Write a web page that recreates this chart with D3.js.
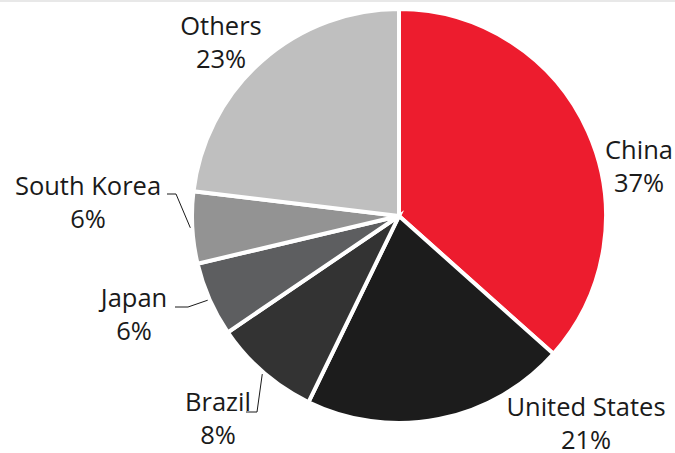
<!DOCTYPE html>
<html>
<head>
<meta charset="utf-8">
<script src="https://cdn.jsdelivr.net/npm/d3@7"></script>
<style>
  html, body { margin: 0; padding: 0; background: #fff; }
  svg { display: block; }
  text { font-family: "Open Sans", "Noto Sans", sans-serif; fill: #1a1a1a; }
</style>
</head>
<body>
<svg id="chart" width="675" height="453"></svg>
<script>
// Share of total, by country
const countries = ["China", "United States", "Brazil", "Japan", "South Korea", "Others"];
const shares = [36.6, 20.6, 8.3, 5.8, 5.6, 23.1];
const sliceColors = ["#ed1c2e", "#1c1c1c", "#333333", "#5d5e60", "#939393", "#bfbfbf"];

// Label placement: centre x / first baseline y; leader elbow where a connector is drawn
const labelLayout = {
  "China":         { x: 639, y: 159 },
  "United States": { x: 586, y: 416 },
  "Brazil":        { x: 218, y: 411, elbow: [257, 412], tail: [246, 412] },
  "Japan":         { x: 134, y: 307, elbow: [188, 307], tail: [175, 307] },
  "South Korea":   { x: 88,  y: 195, elbow: [176, 194], tail: [167, 194] },
  "Others":        { x: 221, y: 35 }
};

const width = 675, height = 453;
const cx = 399, cy = 216, radius = 207;
const lineGap = 33;

const svg = d3.select("#chart");

// thin rule along the top edge
svg.append("rect")
  .attr("x", 0).attr("y", 0)
  .attr("width", width).attr("height", 2)
  .attr("fill", "#e8e8e8");

const data = countries.map((name, i) => ({ name, value: shares[i], color: sliceColors[i] }));

const pie = d3.pie().sort(null).value(d => d.value);
const arcs = pie(data);

const arc = d3.arc().innerRadius(0).outerRadius(radius);

const g = svg.append("g").attr("transform", `translate(${cx},${cy})`);

g.selectAll("path.slice")
  .data(arcs)
  .join("path")
  .attr("class", "slice")
  .attr("d", arc)
  .attr("fill", d => d.data.color)
  .attr("stroke", "#fff")
  .attr("stroke-width", 4)
  .attr("stroke-linejoin", "miter");

// leader lines from the slice edge (mid-angle) to the label
const edgeR = radius + 2;
arcs.forEach(a => {
  const lay = labelLayout[a.data.name];
  if (!lay.elbow) return;
  const mid = (a.startAngle + a.endAngle) / 2;
  const ex = cx + edgeR * Math.sin(mid);
  const ey = cy - edgeR * Math.cos(mid);
  svg.append("polyline")
    .attr("points", [[ex, ey], lay.elbow, lay.tail].map(p => p.join(",")).join(" "))
    .attr("fill", "none")
    .attr("stroke", "#1a1a1a")
    .attr("stroke-width", 1);
});

// labels: name and rounded share
const labels = svg.selectAll("text.label")
  .data(arcs)
  .join("text")
  .attr("class", "label")
  .attr("text-anchor", "middle")
  .attr("font-size", 25.5)
  .attr("x", d => labelLayout[d.data.name].x)
  .attr("y", d => labelLayout[d.data.name].y);

labels.append("tspan")
  .attr("x", d => labelLayout[d.data.name].x)
  .text(d => d.data.name);

labels.append("tspan")
  .attr("x", d => labelLayout[d.data.name].x)
  .attr("dy", lineGap)
  .text(d => Math.round(d.data.value) + "%");
</script>
</body>
</html>
